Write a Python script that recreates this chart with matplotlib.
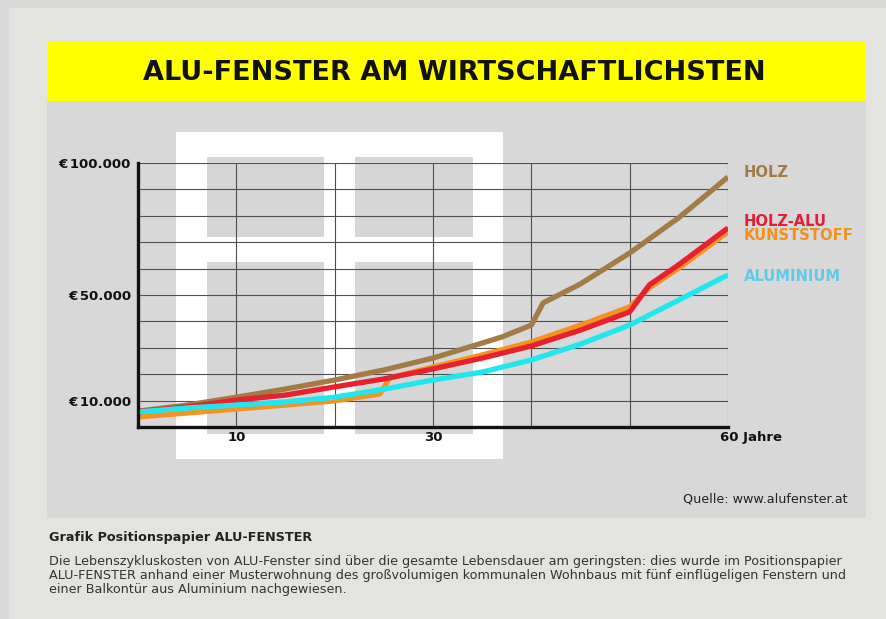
import matplotlib
matplotlib.use('Agg')
import matplotlib.pyplot as plt
from matplotlib.patches import Rectangle

# Lebenszykluskosten in Euro ueber die Jahre
holz_years = [0, 5, 10, 15, 20, 25, 30, 35, 37, 40, 41.2, 45, 50, 55, 60]
holz_costs = [6000, 8300, 11300, 14400, 17800, 21600, 26100, 31800, 34100, 38600, 47000, 54200, 65900, 79300, 94700]

holzalu_years = [0, 5, 10, 15, 20, 25, 30, 35, 40, 45, 50, 52, 55, 60]
holzalu_costs = [5800, 7600, 10200, 12100, 15200, 18200, 22000, 26100, 30700, 36700, 43600, 53800, 61500, 75400]

kunststoff_years = [0, 5, 10, 15, 20, 24.6, 25.6, 30, 35, 40, 45, 50, 52, 55, 60]
kunststoff_costs = [3800, 5300, 6800, 8300, 9900, 12500, 18600, 22700, 27300, 32200, 38600, 45500, 52700, 60200, 73900]

alu_years = [0, 5, 10, 15, 20, 25, 30, 35, 40, 45, 50, 55, 60]
alu_costs = [5700, 7200, 8300, 9500, 11300, 14300, 17800, 20800, 25400, 31400, 38600, 48100, 57600]

series_names = ['HOLZ', 'HOLZ-ALU', 'KUNSTSTOFF', 'ALUMINIUM']
line_colors = ['#a27b45', '#e8212e', '#f39322', '#22e6ee']
label_colors = ['#a27b45', '#e0203a', '#f0901e', '#5ccbe8']

x_ticks = [0, 10, 20, 30, 40, 50, 60]
x_labels = ['', '10', '', '30', '', '', '']
y_ticks = [0, 10000, 20000, 30000, 40000, 50000, 60000, 70000, 80000, 90000, 100000]
y_labels = {10000: '€\u200910.000', 50000: '€\u200950.000', 100000: '€\u2009100.000'}

W, H = 886, 619
fig = plt.figure(figsize=(W / 100, H / 100), dpi=100)
fig.patch.set_facecolor('#d9d9d9')


def box(x0, y0, x1, y1, color, z=0):
    # pixel box -> figure fraction (origin top left)
    r = Rectangle((x0 / W, 1 - y1 / H), (x1 - x0) / W, (y1 - y0) / H,
                  transform=fig.transFigure, facecolor=color, edgecolor='none', zorder=z)
    fig.add_artist(r)


# background panels
box(9, 8, 886, 619, '#e3e3df')
box(47, 42, 866, 518, '#d8d8d8')
box(47, 42, 866, 101, '#ffff00')
# window in the background
box(176, 132, 503, 459, '#ffffff')
box(207, 157, 324, 237, '#d6d6d6')
box(355, 157, 473, 237, '#d6d6d6')
box(207, 262, 324, 434, '#d6d6d6')
box(355, 262, 473, 434, '#d6d6d6')

fig.text(454 / W, 1 - 73 / H, 'ALU-FENSTER AM WIRTSCHAFTLICHSTEN', ha='center', va='center',
         fontsize=19.5, fontweight='bold', color='#111111')

ax = fig.add_axes([138 / W, 1 - 427 / H, 590 / W, 264 / H])
ax.set_facecolor('none')
ax.set_xlim(0, 60)
ax.set_ylim(0, 100000)

ax.set_xticks(x_ticks)
ax.set_xticklabels(x_labels, fontsize=9.5, fontweight='bold', color='#111111')
ax.set_yticks(y_ticks)
ax.set_yticklabels([y_labels.get(v, '') for v in y_ticks], fontsize=9.5, fontweight='bold', color='#111111')
ax.tick_params(axis='x', length=0, pad=3)
ax.tick_params(axis='y', length=0, pad=5)
ax.grid(True, color='#505050', linewidth=0.8)
ax.set_axisbelow(True)
for s in ['top', 'right']:
    ax.spines[s].set_visible(False)
for s in ['left', 'bottom']:
    ax.spines[s].set_linewidth(2.4)
    ax.spines[s].set_color('#111111')
    ax.spines[s].set_zorder(5)

all_years = [holz_years, holzalu_years, kunststoff_years, alu_years]
all_costs = [holz_costs, holzalu_costs, kunststoff_costs, alu_costs]
zorders = [3, 3.2, 3.1, 3.3]
for yrs, vals, c, z in zip(all_years, all_costs, line_colors, zorders):
    ax.plot(yrs, vals, color=c, linewidth=3.8, solid_capstyle='butt', solid_joinstyle='round', zorder=z)

ax.annotate('60 Jahre', xy=(60, 0), xytext=(-6, -3), textcoords='offset points',
            ha='left', va='top', fontsize=9.5, fontweight='bold', color='#111111')

# series labels right of the chart
label_y = [173, 222, 236, 276]
for name, c, yp in zip(series_names, label_colors, label_y):
    fig.text(744 / W, 1 - yp / H, name, ha='left', va='center', fontsize=10.6,
             fontweight='bold', color=c)

fig.text(848 / W, 1 - 499 / H, 'Quelle: www.alufenster.at', ha='right', va='center',
         fontsize=9.2, color='#222222')

fig.text(49 / W, 1 - 538 / H, 'Grafik Positionspapier ALU-FENSTER', ha='left', va='center',
         fontsize=9.2, fontweight='bold', color='#222222')
para = ['Die Lebenszykluskosten von ALU-Fenster sind über die gesamte Lebensdauer am geringsten: dies wurde im Positionspapier',
        'ALU-FENSTER anhand einer Musterwohnung des großvolumigen kommunalen Wohnbaus mit fünf einflügeligen Fenstern und',
        'einer Balkontür aus Aluminium nachgewiesen.']
for i, line in enumerate(para):
    fig.text(49 / W, 1 - (562 + 14 * i) / H, line, ha='left', va='center', fontsize=9.2, color='#333333')

fig.savefig('out.png', dpi=100, facecolor=fig.get_facecolor())
